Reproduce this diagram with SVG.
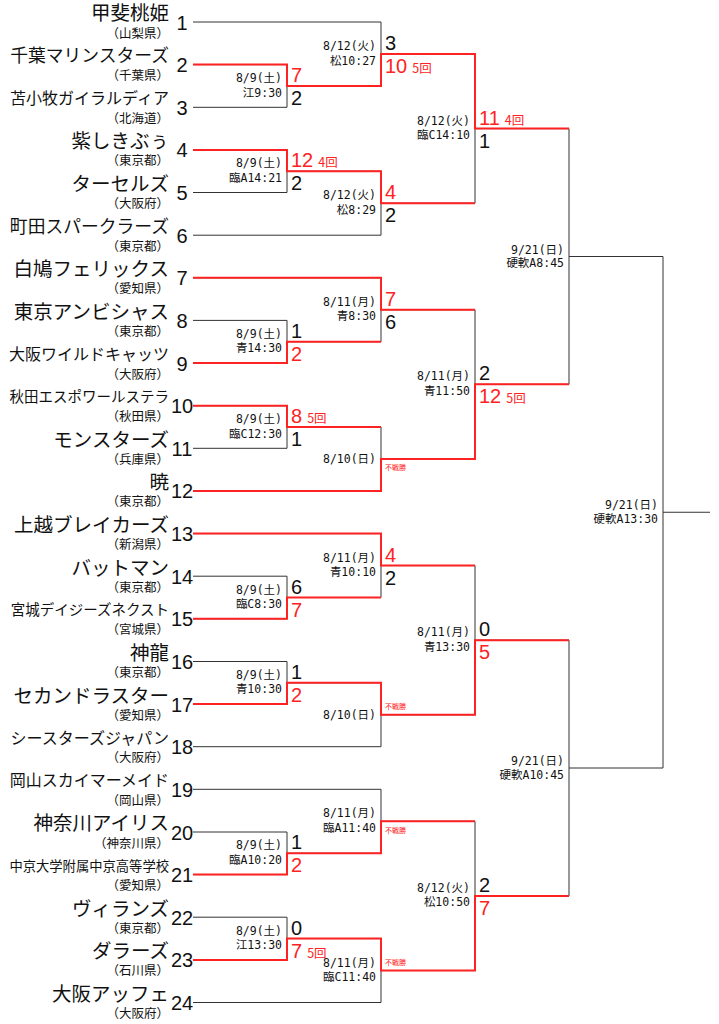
<svg xmlns="http://www.w3.org/2000/svg" width="719" height="1024" viewBox="0 0 719 1024">
<style>
text{font-family:"Liberation Sans","Noto Sans CJK JP",sans-serif;fill:#111}
.nm{text-anchor:end}
.pf{font-size:12.5px;text-anchor:end}
.no{font-size:20px;text-anchor:middle}
.dt{font-family:"DejaVu Sans Mono","Noto Sans CJK JP",monospace;font-size:11.5px;text-anchor:end}
.sc{font-size:20px}
.w{fill:#f22}
.inn{font-family:"Noto Sans CJK JP",sans-serif;font-size:12.5px;fill:#f22}
.fs{font-family:"Noto Sans CJK JP",sans-serif;font-size:7px;fill:#f22}
.ln{stroke:#333;stroke-width:1;fill:none}
.rd{stroke:#f22;stroke-width:2;fill:none}
</style>
<rect width="719" height="1024" fill="#fff"/>
<g id="connectors">
<g class="ln">
<path d="M193 22H381V86H287M193 64.6H287V107.3H193M193 149.9H287V192.5H193M193 235.2H381V171.2H287M381 54H475V203.2H381M475 128.6H569"/>
<path d="M193 277.8H381V341.7H287M193 320.4H287V363H193M193 405.7H287V448.3H193M193 490.9H381V427H287M381 309.75H475V458.95H381M475 384.35H569"/>
<path d="M193 533.6H381V597.5H287M193 576.2H287V618.8H193M193 661.5H287V704.1H193M193 746.7H381V682.8H287M381 565.55H475V714.75H381M475 640.15H569"/>
<path d="M193 789.3H381V853.3H287M193 832H287V874.6H193M193 917.2H287V959.9H193M193 1002.5H381V938.6H287M381 821.3H475V970.55H381M475 895.9H569"/>
<path d="M569 128.6V384.35M569 256.5H663M569 640.15V895.9M569 768H663M663 256.5V768M663 512.25H710"/>
</g>
<g class="rd">
<path d="M193 64.6H287V86H381V54H475V128.6H569"/>
<path d="M193 149.9H287V171.2H381V203.2H475"/>
<path d="M193 277.8H381V309.75H475"/>
<path d="M193 363H287V341.7H381"/>
<path d="M193 405.7H287V427H381"/>
<path d="M193 490.9H381V458.95H475V384.35H569"/>
<path d="M193 533.6H381V565.55H475"/>
<path d="M193 618.8H287V597.5H381"/>
<path d="M193 704.1H287V682.8H381V714.75H475V640.15H569"/>
<path d="M193 874.6H287V853.3H381V821.3H475"/>
<path d="M193 959.9H287V938.6H381V970.55H475V895.9H569"/>
</g>
</g>
<g id="team1" transform="translate(0,22)"><text class="nm" x="169" y="-1.6" font-size="19.5">甲斐桃姫</text><text class="pf" x="169" y="15.5">（山梨県）</text><text class="no" x="182" y="7.5">1</text></g>
<g id="team2" transform="translate(0,64.6)"><text class="nm" x="169" y="-2.2" font-size="17.8">千葉マリンスターズ</text><text class="pf" x="169" y="15.5">（千葉県）</text><text class="no" x="182" y="7.5">2</text></g>
<g id="team3" transform="translate(0,107.3)"><text class="nm" x="169" y="-2.9" font-size="16">苫小牧ガイラルディア</text><text class="pf" x="169" y="15.5">（北海道）</text><text class="no" x="182" y="7.5">3</text></g>
<g id="team4" transform="translate(0,149.9)"><text class="nm" x="169" y="-1.6" font-size="19.5">紫しきぶぅ</text><text class="pf" x="169" y="15.5">（東京都）</text><text class="no" x="182" y="7.5">4</text></g>
<g id="team5" transform="translate(0,192.5)"><text class="nm" x="169" y="-1.6" font-size="19.5">ターセルズ</text><text class="pf" x="169" y="15.5">（大阪府）</text><text class="no" x="182" y="7.5">5</text></g>
<g id="team6" transform="translate(0,235.2)"><text class="nm" x="169" y="-2.2" font-size="17.8">町田スパークラーズ</text><text class="pf" x="169" y="15.5">（東京都）</text><text class="no" x="182" y="7.5">6</text></g>
<g id="team7" transform="translate(0,277.8)"><text class="nm" x="169" y="-1.6" font-size="19.5">白鳩フェリックス</text><text class="pf" x="169" y="15.5">（愛知県）</text><text class="no" x="182" y="7.5">7</text></g>
<g id="team8" transform="translate(0,320.4)"><text class="nm" x="169" y="-1.6" font-size="19.5">東京アンビシャス</text><text class="pf" x="169" y="15.5">（東京都）</text><text class="no" x="182" y="7.5">8</text></g>
<g id="team9" transform="translate(0,363)"><text class="nm" x="169" y="-2.9" font-size="16">大阪ワイルドキャッツ</text><text class="pf" x="169" y="15.5">（大阪府）</text><text class="no" x="182" y="7.5">9</text></g>
<g id="team10" transform="translate(0,405.7)"><text class="nm" x="169" y="-3.5" font-size="14.5">秋田エスポワールステラ</text><text class="pf" x="169" y="15.5">（秋田県）</text><text class="no" x="182" y="7.5">10</text></g>
<g id="team11" transform="translate(0,448.3)"><text class="nm" x="169" y="-1.6" font-size="19.5">モンスターズ</text><text class="pf" x="169" y="15.5">（兵庫県）</text><text class="no" x="182" y="7.5">11</text></g>
<g id="team12" transform="translate(0,490.9)"><text class="nm" x="169" y="-1.6" font-size="19.5">暁</text><text class="pf" x="169" y="15.5">（東京都）</text><text class="no" x="182" y="7.5">12</text></g>
<g id="team13" transform="translate(0,533.6)"><text class="nm" x="169" y="-1.6" font-size="19.5">上越ブレイカーズ</text><text class="pf" x="169" y="15.5">（新潟県）</text><text class="no" x="182" y="7.5">13</text></g>
<g id="team14" transform="translate(0,576.2)"><text class="nm" x="169" y="-1.6" font-size="19.5">バットマン</text><text class="pf" x="169" y="15.5">（東京都）</text><text class="no" x="182" y="7.5">14</text></g>
<g id="team15" transform="translate(0,618.8)"><text class="nm" x="169" y="-3.5" font-size="14.5">宮城デイジーズネクスト</text><text class="pf" x="169" y="15.5">（宮城県）</text><text class="no" x="182" y="7.5">15</text></g>
<g id="team16" transform="translate(0,661.5)"><text class="nm" x="169" y="-1.6" font-size="19.5">神龍</text><text class="pf" x="169" y="15.5">（東京都）</text><text class="no" x="182" y="7.5">16</text></g>
<g id="team17" transform="translate(0,704.1)"><text class="nm" x="169" y="-1.6" font-size="19.5">セカンドラスター</text><text class="pf" x="169" y="15.5">（愛知県）</text><text class="no" x="182" y="7.5">17</text></g>
<g id="team18" transform="translate(0,746.7)"><text class="nm" x="169" y="-2.9" font-size="16">シースターズジャパン</text><text class="pf" x="169" y="15.5">（大阪府）</text><text class="no" x="182" y="7.5">18</text></g>
<g id="team19" transform="translate(0,789.3)"><text class="nm" x="169" y="-2.9" font-size="16">岡山スカイマーメイド</text><text class="pf" x="169" y="15.5">（岡山県）</text><text class="no" x="182" y="7.5">19</text></g>
<g id="team20" transform="translate(0,832)"><text class="nm" x="169" y="-1.6" font-size="19.5">神奈川アイリス</text><text class="pf" x="169" y="15.5">（神奈川県）</text><text class="no" x="182" y="7.5">20</text></g>
<g id="team21" transform="translate(0,874.6)"><text class="nm" x="169" y="-3.9" font-size="13.3">中京大学附属中京高等学校</text><text class="pf" x="169" y="15.5">（愛知県）</text><text class="no" x="182" y="7.5">21</text></g>
<g id="team22" transform="translate(0,917.2)"><text class="nm" x="169" y="-1.6" font-size="19.5">ヴィランズ</text><text class="pf" x="169" y="15.5">（東京都）</text><text class="no" x="182" y="7.5">22</text></g>
<g id="team23" transform="translate(0,959.9)"><text class="nm" x="169" y="-1.6" font-size="19.5">ダラーズ</text><text class="pf" x="169" y="15.5">（石川県）</text><text class="no" x="182" y="7.5">23</text></g>
<g id="team24" transform="translate(0,1002.5)"><text class="nm" x="169" y="-1.6" font-size="19.5">大阪アッフェ</text><text class="pf" x="169" y="15.5">（大阪府）</text><text class="no" x="182" y="7.5">24</text></g>

<g id="m1" transform="translate(287,86)"><text class="dt" x="-5" y="-4">8/9(土)</text><text class="dt" x="-5" y="10.5">江9:30</text><text class="sc w" x="4" y="-4">7</text><text class="sc" x="4" y="19">2</text></g>
<g id="m2" transform="translate(287,171.2)"><text class="dt" x="-5" y="-4">8/9(土)</text><text class="dt" x="-5" y="10.5">臨A14:21</text><text class="sc w" x="4" y="-4">12<tspan class="inn" dx="5">4回</tspan></text><text class="sc" x="4" y="19">2</text></g>
<g id="m3" transform="translate(287,341.7)"><text class="dt" x="-5" y="-4">8/9(土)</text><text class="dt" x="-5" y="10.5">青14:30</text><text class="sc" x="4" y="-4">1</text><text class="sc w" x="4" y="19">2</text></g>
<g id="m4" transform="translate(287,427)"><text class="dt" x="-5" y="-4">8/9(土)</text><text class="dt" x="-5" y="10.5">臨C12:30</text><text class="sc w" x="4" y="-4">8<tspan class="inn" dx="5">5回</tspan></text><text class="sc" x="4" y="19">1</text></g>
<g id="m5" transform="translate(287,597.5)"><text class="dt" x="-5" y="-4">8/9(土)</text><text class="dt" x="-5" y="10.5">臨C8:30</text><text class="sc" x="4" y="-4">6</text><text class="sc w" x="4" y="19">7</text></g>
<g id="m6" transform="translate(287,682.8)"><text class="dt" x="-5" y="-4">8/9(土)</text><text class="dt" x="-5" y="10.5">青10:30</text><text class="sc" x="4" y="-4">1</text><text class="sc w" x="4" y="19">2</text></g>
<g id="m7" transform="translate(287,853.3)"><text class="dt" x="-5" y="-4">8/9(土)</text><text class="dt" x="-5" y="10.5">臨A10:20</text><text class="sc" x="4" y="-4">1</text><text class="sc w" x="4" y="19">2</text></g>
<g id="m8" transform="translate(287,938.6)"><text class="dt" x="-5" y="-4">8/9(土)</text><text class="dt" x="-5" y="10.5">江13:30</text><text class="sc" x="4" y="-4">0</text><text class="sc w" x="4" y="19">7<tspan class="inn" dx="5">5回</tspan></text></g>

<g id="m9" transform="translate(381,54)"><text class="dt" x="-5" y="-4">8/12(火)</text><text class="dt" x="-5" y="10.5">松10:27</text><text class="sc" x="4" y="-4">3</text><text class="sc w" x="4" y="19">10<tspan class="inn" dx="5">5回</tspan></text></g>
<g id="m10" transform="translate(381,203.2)"><text class="dt" x="-5" y="-4">8/12(火)</text><text class="dt" x="-5" y="10.5">松8:29</text><text class="sc w" x="4" y="-4">4</text><text class="sc" x="4" y="19">2</text></g>
<g id="m11" transform="translate(381,309.75)"><text class="dt" x="-5" y="-4">8/11(月)</text><text class="dt" x="-5" y="10.5">青8:30</text><text class="sc w" x="4" y="-4">7</text><text class="sc" x="4" y="19">6</text></g>
<g id="m12" transform="translate(381,458.95)"><text class="dt" x="-5" y="4">8/10(日)</text><text class="fs" x="4" y="11.5">不戦勝</text></g>
<g id="m13" transform="translate(381,565.55)"><text class="dt" x="-5" y="-4">8/11(月)</text><text class="dt" x="-5" y="10.5">青10:10</text><text class="sc w" x="4" y="-4">4</text><text class="sc" x="4" y="19">2</text></g>
<g id="m14" transform="translate(381,714.75)"><text class="dt" x="-5" y="4">8/10(日)</text><text class="fs" x="4" y="-6">不戦勝</text></g>
<g id="m15" transform="translate(381,821.3)"><text class="dt" x="-5" y="-4">8/11(月)</text><text class="dt" x="-5" y="10.5">臨A11:40</text><text class="fs" x="4" y="11.5">不戦勝</text></g>
<g id="m16" transform="translate(381,970.55)"><text class="dt" x="-5" y="-4">8/11(月)</text><text class="dt" x="-5" y="10.5">臨C11:40</text><text class="fs" x="4" y="-6">不戦勝</text></g>

<g id="m17" transform="translate(475,128.6)"><text class="dt" x="-5" y="-4">8/12(火)</text><text class="dt" x="-5" y="10.5">臨C14:10</text><text class="sc w" x="4" y="-4">11<tspan class="inn" dx="5">4回</tspan></text><text class="sc" x="4" y="19">1</text></g>
<g id="m18" transform="translate(475,384.35)"><text class="dt" x="-5" y="-4">8/11(月)</text><text class="dt" x="-5" y="10.5">青11:50</text><text class="sc" x="4" y="-4">2</text><text class="sc w" x="4" y="19">12<tspan class="inn" dx="5">5回</tspan></text></g>
<g id="m19" transform="translate(475,640.15)"><text class="dt" x="-5" y="-4">8/11(月)</text><text class="dt" x="-5" y="10.5">青13:30</text><text class="sc" x="4" y="-4">0</text><text class="sc w" x="4" y="19">5</text></g>
<g id="m20" transform="translate(475,895.9)"><text class="dt" x="-5" y="-4">8/12(火)</text><text class="dt" x="-5" y="10.5">松10:50</text><text class="sc" x="4" y="-4">2</text><text class="sc w" x="4" y="19">7</text></g>

<g id="m21" transform="translate(569,256.5)"><text class="dt" x="-5" y="-3">9/21(日)</text><text class="dt" x="-5" y="10.5">硬軟A8:45</text></g>
<g id="m22" transform="translate(569,768)"><text class="dt" x="-5" y="-3">9/21(日)</text><text class="dt" x="-5" y="10.5">硬軟A10:45</text></g>
<g id="m23" transform="translate(663,512.25)"><text class="dt" x="-5" y="-3">9/21(日)</text><text class="dt" x="-5" y="10.5">硬軟A13:30</text></g>
</svg>
